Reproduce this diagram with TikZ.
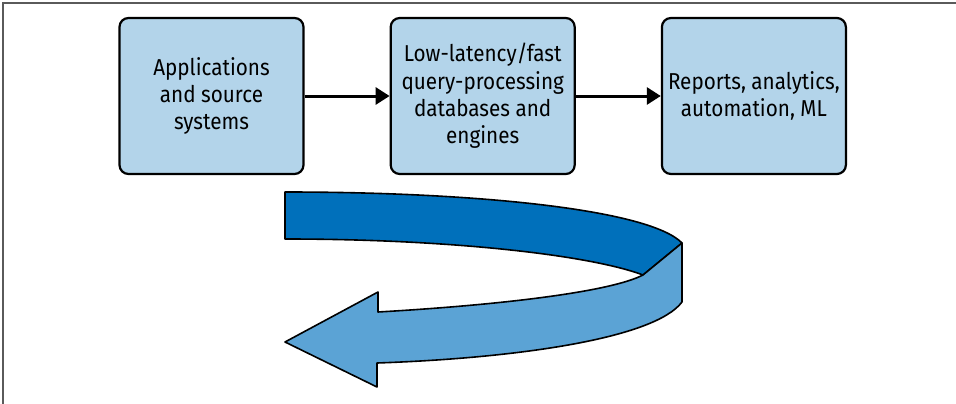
\documentclass[tikz,border=0pt]{standalone}
\usepackage{fontspec}
\setmainfont{Fira Sans}[FakeStretch=0.9]
\usepackage{tikz}
\usetikzlibrary{positioning,arrows.meta}
\definecolor{boxfill}{RGB}{179,212,234}
\definecolor{ribbondark}{RGB}{0,112,187}
\definecolor{ribbonlight}{RGB}{91,163,213}
\definecolor{framegray}{RGB}{90,90,90}

\begin{document}
\begin{tikzpicture} [x = 1pt, y = -1pt,
        stage/.style = {draw, line width = 2.2pt, rounded corners = 9pt, fill = boxfill,
                        minimum width = 184pt, minimum height = 156pt, align = center,
                        font = \fontsize{23}{27.3}\selectfont, inner sep = 2pt},
        flow/.style = {line width = 3pt, -{Triangle[length = 14pt, width = 17pt]}}]
                \useasboundingbox (0,0) rectangle (956,404);
                \draw [framegray, line width = 1.4pt] (3,404) -- (3,3) -- (956,3);
                \node [stage] (src) at (211.5,96) {Applications\\and source\\systems};
                \node [stage, right = 85pt of src] (db) {Low-latency/fast\\query-processing\\databases and\\engines};
                \node [stage, right = 85pt of db] (out) {Reports, analytics,\\automation, ML};
                \draw [flow] (src) -- (db);
                \draw [flow] (db) -- (out);
                % ribbon arrow underneath
                \draw [fill = ribbondark, line width = 1.6pt, line join = round]
                  (285,192) .. controls (480,192) and (650,210) .. (682,243) -- (643,275)
                  .. controls (590,255) and (450,239) .. (285,239) -- cycle;
                \draw [fill = ribbonlight, line width = 1.6pt, line join = round]
                  (682,243) -- (682,302) .. controls (655,338) and (520,358) .. (377,363)
                  -- (377,387) -- (285,342) -- (378,292) -- (378,312)
                  .. controls (500,305) and (610,292) .. (643,275) -- cycle;
            \end{tikzpicture}
\end{document}
